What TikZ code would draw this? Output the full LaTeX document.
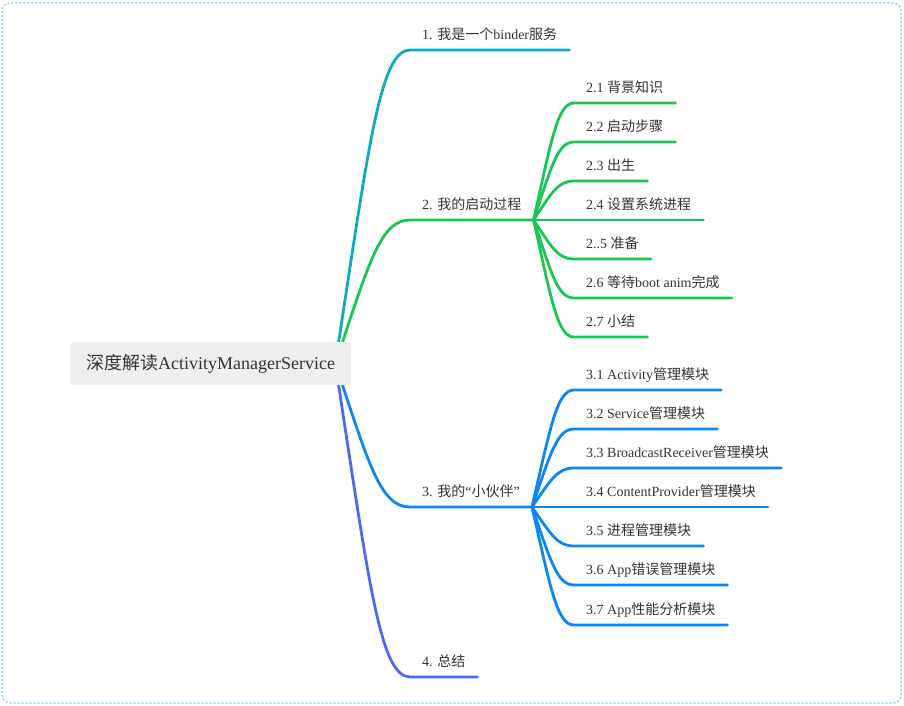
\documentclass[tikz,border=0pt]{standalone}
\usepackage{fontspec}
\setmainfont{Liberation Serif}
\newfontfamily\cjk{Noto Sans CJK SC}
\newcommand\zh[1]{{\cjk #1}}
\usetikzlibrary{calc,backgrounds}
\definecolor{ink}{HTML}{333333}
\definecolor{rootgray}{HTML}{EEF0EF}
\definecolor{framecyan}{HTML}{8FD8E8}
\definecolor{teal1}{HTML}{10AABF}
\definecolor{green2}{HTML}{1BC553}
\definecolor{blue3}{HTML}{0C85F5}
\definecolor{indigo4}{HTML}{4B6BEF}

\begin{document}
\begin{tikzpicture}[x=1pt,y=-1pt,
  frame/.style={draw=framecyan,line width=1.5pt,dash pattern=on 2pt off 2pt,rounded corners=8pt},
  root/.style={anchor=north west,fill=rootgray,rounded corners=3pt,minimum height=43pt,inner xsep=16pt,text=ink,font=\fontsize{18}{22}\selectfont},
  topic/.style={anchor=south west,inner xsep=12pt,inner ysep=0pt,text depth=10pt,text=ink,font=\fontsize{14}{16}\selectfont},
  twig/.style={line width=2.8pt,line cap=round,line join=round,
    to path={let \p1=(\tikztostart),\p2=(\tikztotarget) in
      .. controls ({\x1+.45*(\x2-\x1)},{\y1+.7*(\y2-\y1)}) and ({\x1+.6*(\x2-\x1)},\y2) .. (\tikztotarget)}}]
\path[use as bounding box] (0,0) rectangle (904,706);
\draw[frame] (2,3) rectangle (901,703);

% centre
\node[root] (root) at (70,342) {\zh{深度解读}ActivityManagerService};
\coordinate (hub) at ([xshift=-16pt]root.east);

% main topics
\node[topic] (t1) at (410,50) {1. \zh{我是一个}binder\zh{服务}};
\node[topic] (t2) at (410,220) {2. \zh{我的启动过程}};
\node[topic] (t3) at (410,507) {3. \zh{我的}“\zh{小伙伴}”};
\node[topic] (t4) at (410,677) {4. \zh{总结}};

% 2.x
\node[topic] (s21) at (574,103) {2.1 \zh{背景知识}};
\node[topic] (s22) at (574,142) {2.2 \zh{启动步骤}};
\node[topic] (s23) at (574,181) {2.3 \zh{出生}};
\node[topic] (s24) at (574,220) {2.4 \zh{设置系统进程}};
\node[topic] (s25) at (574,259) {2..5 \zh{准备}};
\node[topic] (s26) at (574,298) {2.6 \zh{等待}boot anim\zh{完成}};
\node[topic] (s27) at (574,337) {2.7 \zh{小结}};

% 3.x
\node[topic] (s31) at (574,390) {3.1 Activity\zh{管理模块}};
\node[topic] (s32) at (574,429) {3.2 Service\zh{管理模块}};
\node[topic] (s33) at (574,468) {3.3 BroadcastReceiver\zh{管理模块}};
\node[topic] (s34) at (574,507) {3.4 ContentProvider\zh{管理模块}};
\node[topic] (s35) at (574,546) {3.5 \zh{进程管理模块}};
\node[topic] (s36) at (574,585) {3.6 App\zh{错误管理模块}};
\node[topic] (s37) at (574,625) {3.7 App\zh{性能分析模块}};

\begin{pgfonlayer}{background}
\draw[twig,teal1] (hub) to (t1.south west) -- (t1.south east);
\draw[twig,green2] (hub) to (t2.south west) -- (t2.south east);
\draw[twig,blue3] (hub) to (t3.south west) -- (t3.south east);
\draw[twig,indigo4] (hub) to (t4.south west) -- (t4.south east);

\draw[twig,green2] (t2.south east) to (s21.south west) -- (s21.south east);
\draw[twig,green2] (t2.south east) to (s22.south west) -- (s22.south east);
\draw[twig,green2] (t2.south east) to (s23.south west) -- (s23.south east);
\draw[twig,green2] (t2.south east) to (s24.south west) -- (s24.south east);
\draw[twig,green2] (t2.south east) to (s25.south west) -- (s25.south east);
\draw[twig,green2] (t2.south east) to (s26.south west) -- (s26.south east);
\draw[twig,green2] (t2.south east) to (s27.south west) -- (s27.south east);

\draw[twig,blue3] (t3.south east) to (s31.south west) -- (s31.south east);
\draw[twig,blue3] (t3.south east) to (s32.south west) -- (s32.south east);
\draw[twig,blue3] (t3.south east) to (s33.south west) -- (s33.south east);
\draw[twig,blue3] (t3.south east) to (s34.south west) -- (s34.south east);
\draw[twig,blue3] (t3.south east) to (s35.south west) -- (s35.south east);
\draw[twig,blue3] (t3.south east) to (s36.south west) -- (s36.south east);
\draw[twig,blue3] (t3.south east) to (s37.south west) -- (s37.south east);
\end{pgfonlayer}
\end{tikzpicture}
\end{document}
